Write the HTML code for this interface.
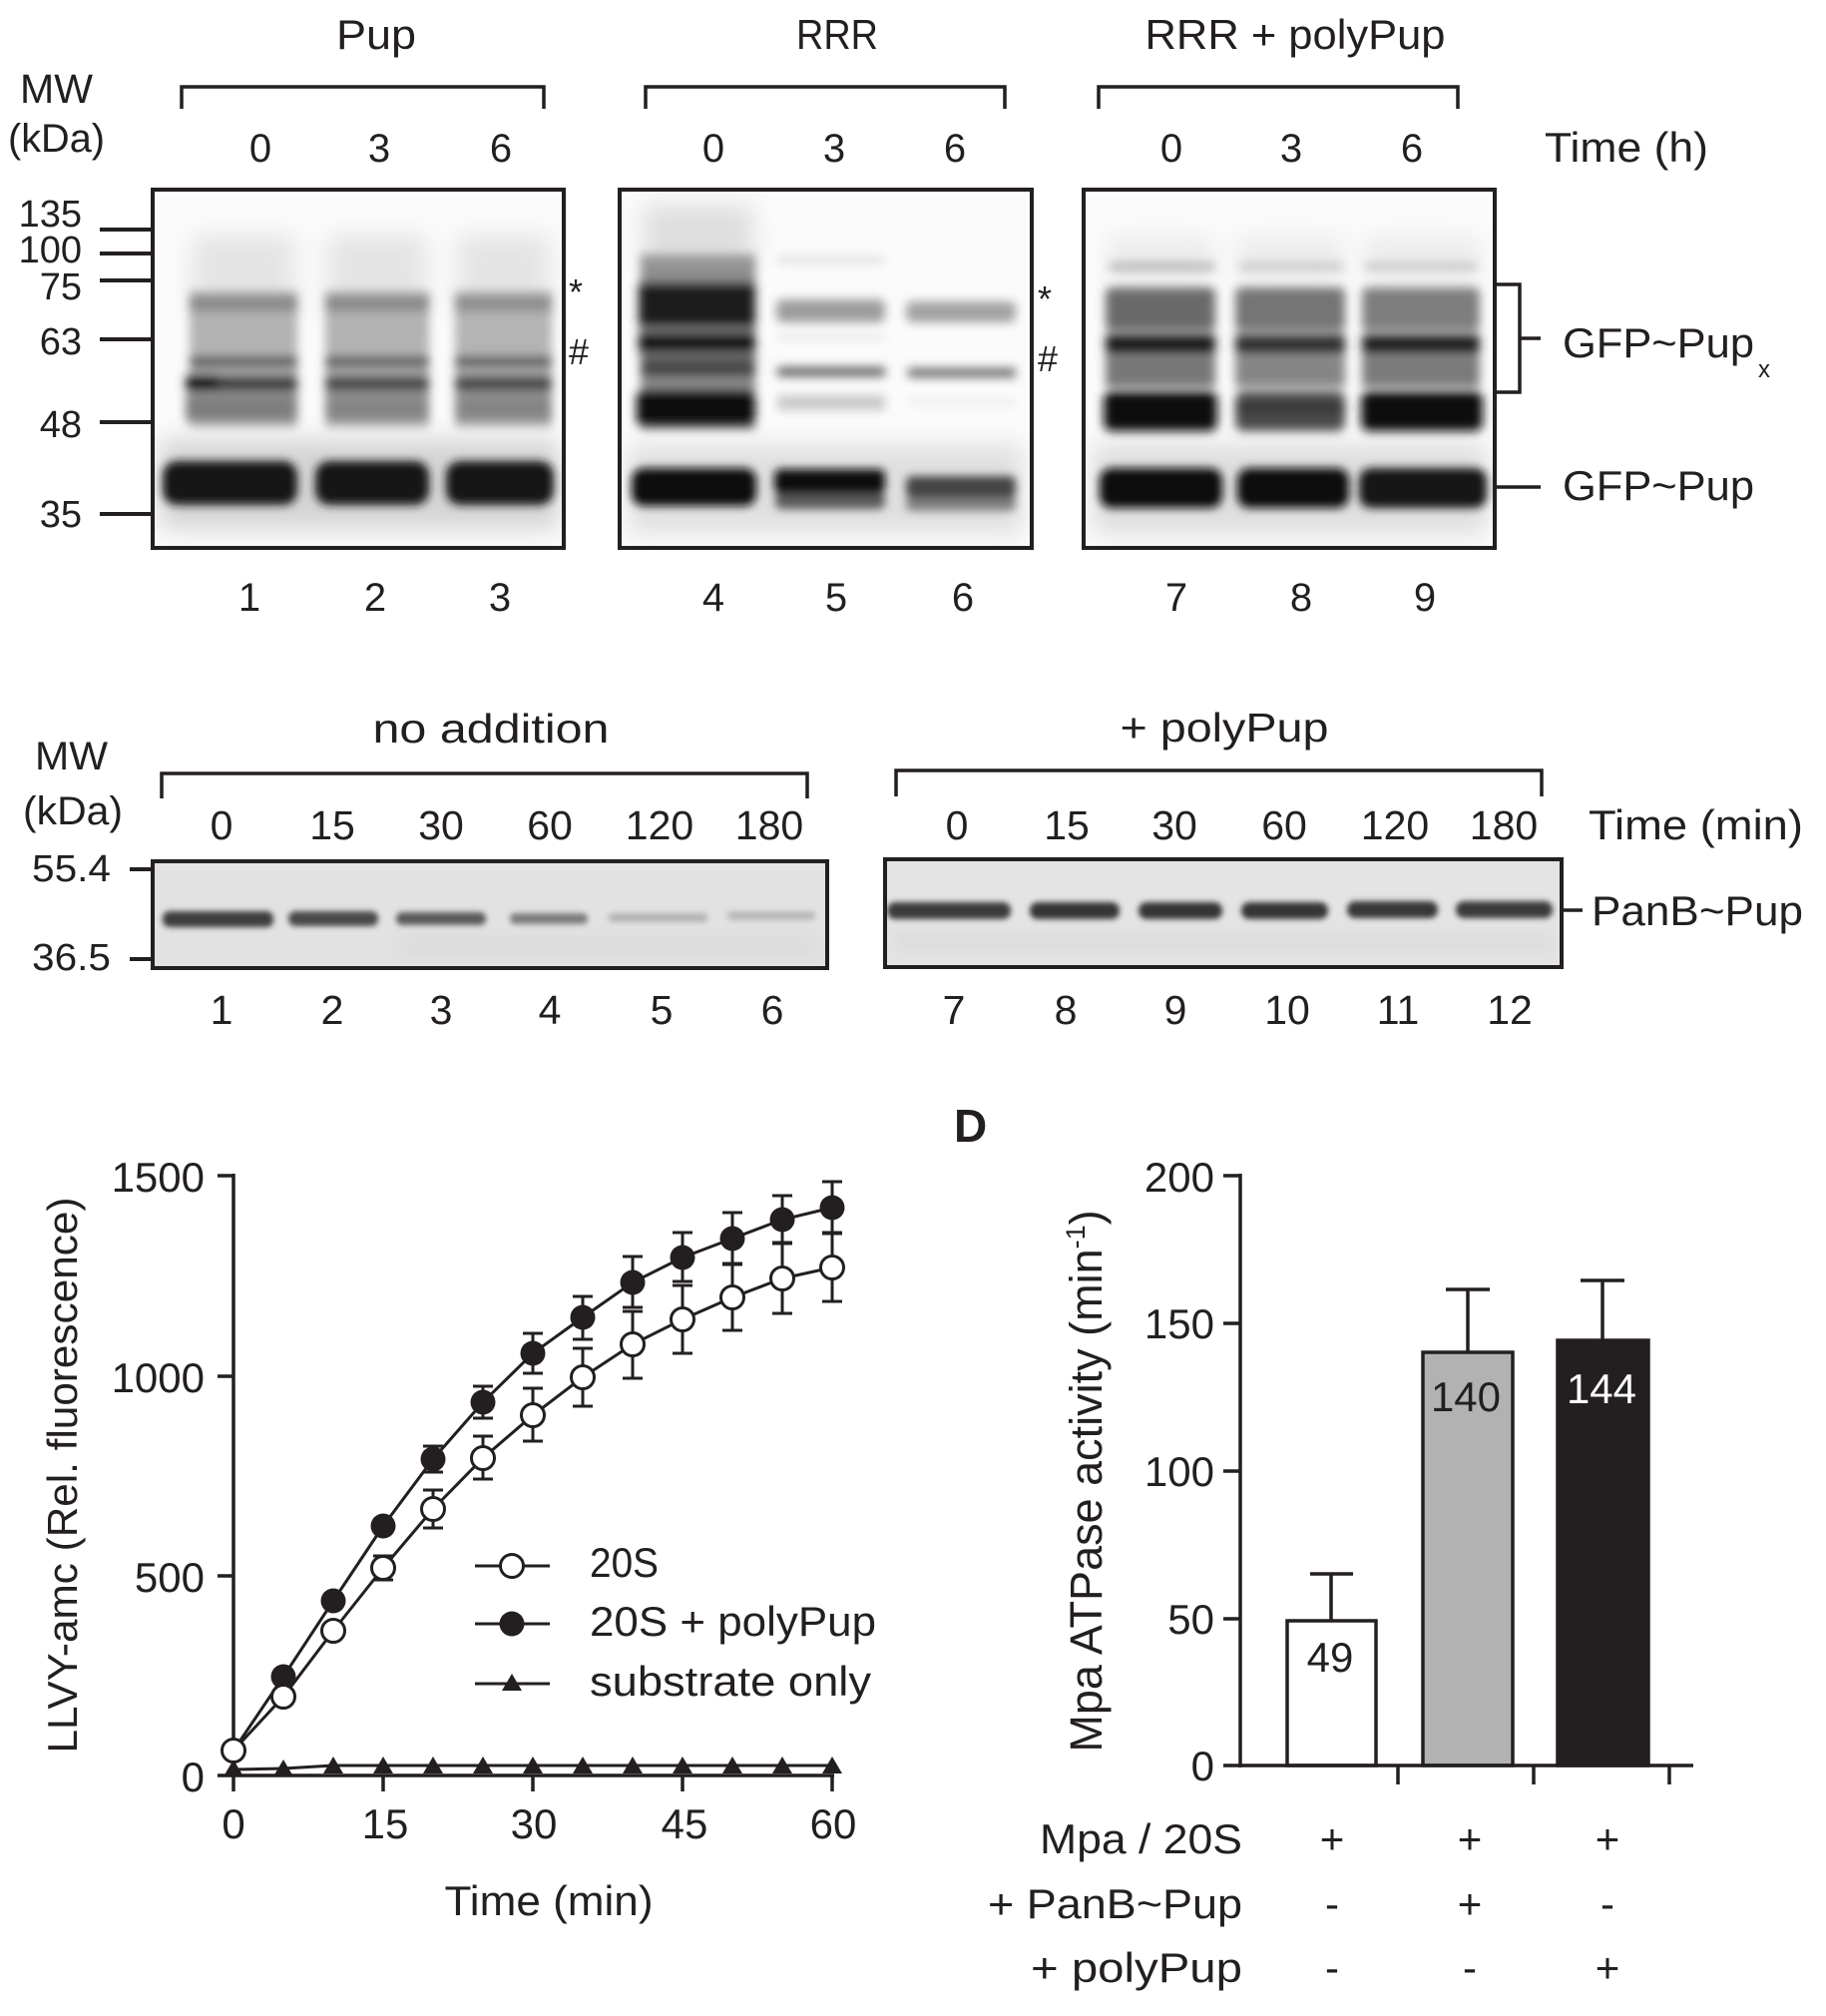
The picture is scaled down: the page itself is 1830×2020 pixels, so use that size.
<!DOCTYPE html>
<html>
<head>
<meta charset="utf-8">
<style>
html,body{margin:0;padding:0;background:#fff;}
svg{display:block;}
</style>
</head>
<body>
<svg width="1830" height="2020" viewBox="0 0 1830 2020" xmlns="http://www.w3.org/2000/svg" font-family="'Liberation Sans', Arial, sans-serif" fill="#231f20">
<defs>
  <filter id="bl12" filterUnits="userSpaceOnUse" x="0" y="0" width="1830" height="2020"><feGaussianBlur stdDeviation="12"/></filter>
  <filter id="bl8" filterUnits="userSpaceOnUse" x="0" y="0" width="1830" height="2020"><feGaussianBlur stdDeviation="8"/></filter>
  <filter id="bl4" filterUnits="userSpaceOnUse" x="0" y="0" width="1830" height="2020"><feGaussianBlur stdDeviation="5"/></filter>
  <filter id="bl3" filterUnits="userSpaceOnUse" x="0" y="0" width="1830" height="2020"><feGaussianBlur stdDeviation="4.5"/></filter>
  <filter id="bl2" filterUnits="userSpaceOnUse" x="0" y="0" width="1830" height="2020"><feGaussianBlur stdDeviation="3"/></filter>
  <clipPath id="c1"><rect x="155" y="192" width="408" height="355"/></clipPath>
  <clipPath id="c2"><rect x="623" y="192" width="409" height="355"/></clipPath>
  <clipPath id="c3"><rect x="1088" y="192" width="408" height="355"/></clipPath>
  <clipPath id="c4"><rect x="155" y="865" width="672" height="103"/></clipPath>
  <clipPath id="c5"><rect x="889" y="863" width="674" height="104"/></clipPath>
</defs>
<rect width="1830" height="2020" fill="#fff"/>

<!-- ================= TOP PANEL ================= -->
<g font-size="42">
  <text x="377" y="49" text-anchor="middle" textLength="80" lengthAdjust="spacingAndGlyphs">Pup</text>
  <text x="839" y="49" text-anchor="middle" textLength="82" lengthAdjust="spacingAndGlyphs">RRR</text>
  <text x="1298" y="49" text-anchor="middle" textLength="301" lengthAdjust="spacingAndGlyphs">RRR + polyPup</text>
  <text x="20" y="103" font-size="41" textLength="73" lengthAdjust="spacingAndGlyphs">MW</text>
  <text x="8" y="152" font-size="40" textLength="97" lengthAdjust="spacingAndGlyphs">(kDa)</text>
</g>
<g fill="none" stroke="#231f20" stroke-width="3.5">
  <path d="M182 109 V87 H545 V109"/>
  <path d="M647 109 V87 H1007 V109"/>
  <path d="M1101 109 V87 H1461 V109"/>
</g>
<g font-size="40" text-anchor="middle">
  <text x="261" y="162">0</text><text x="380" y="162">3</text><text x="502" y="162">6</text>
  <text x="715" y="162">0</text><text x="836" y="162">3</text><text x="957" y="162">6</text>
  <text x="1174" y="162">0</text><text x="1294" y="162">3</text><text x="1415" y="162">6</text>
</g>
<text x="1548" y="162" font-size="42" textLength="164" lengthAdjust="spacingAndGlyphs">Time (h)</text>

<!-- MW ladder -->
<g font-size="38" text-anchor="end">
  <text x="82" y="227">135</text>
  <text x="82" y="263">100</text>
  <text x="82" y="300">75</text>
  <text x="82" y="355">63</text>
  <text x="82" y="438">48</text>
  <text x="82" y="528">35</text>
</g>
<g stroke="#231f20" stroke-width="4">
  <path d="M100 230 H153 M100 254 H153 M100 281 H153 M100 340 H153 M100 423 H153 M100 515 H153"/>
</g>

<!-- Blot 1 -->
<g clip-path="url(#c1)">
  <rect x="153" y="190" width="412" height="359" fill="#fbfbfb"/>
  <g filter="url(#bl12)">
    <rect x="192" y="235" width="104" height="80" fill="#e4e4e4"/>
    <rect x="328" y="235" width="100" height="80" fill="#e4e4e4"/>
    <rect x="458" y="235" width="93" height="80" fill="#e4e4e4"/>
    <rect x="160" y="440" width="400" height="90" fill="#d4d4d4"/>
  </g>
  <g filter="url(#bl4)">
    <rect x="190" y="292" width="108" height="136" fill="#b2b2b2"/>
    <rect x="326" y="292" width="104" height="136" fill="#b2b2b2"/>
    <rect x="456" y="292" width="97" height="136" fill="#b4b4b4"/>
    <rect x="190" y="296" width="108" height="16" fill="#8a8a8a"/>
    <rect x="326" y="296" width="104" height="16" fill="#8a8a8a"/>
    <rect x="456" y="296" width="97" height="16" fill="#8e8e8e"/>
    <rect x="190" y="357" width="108" height="11" fill="#5a5a5a"/>
    <rect x="326" y="357" width="104" height="11" fill="#5a5a5a"/>
    <rect x="456" y="357" width="97" height="11" fill="#5a5a5a"/>
    <rect x="186" y="376" width="112" height="17" fill="#3e3e3e"/>
    <rect x="326" y="376" width="104" height="17" fill="#484848"/>
    <rect x="456" y="376" width="97" height="17" fill="#484848"/>
    <rect x="188" y="375" width="30" height="18" fill="#111"/>
    <rect x="186" y="396" width="112" height="26" fill="#7e7e7e"/>
    <rect x="326" y="396" width="104" height="26" fill="#858585"/>
    <rect x="456" y="396" width="97" height="26" fill="#858585"/>
  </g>
  <g filter="url(#bl3)">
    <rect x="163" y="462" width="135" height="44" rx="14" fill="#181617"/>
    <rect x="316" y="462" width="114" height="44" rx="14" fill="#181617"/>
    <rect x="447" y="462" width="108" height="44" rx="14" fill="#181617"/>
  </g>
</g>
<rect x="153" y="190" width="412" height="359" fill="none" stroke="#231f20" stroke-width="4"/>
<g font-size="36">
  <text x="570" y="305">*</text>
  <text x="570" y="365">#</text>
</g>

<!-- Blot 2 -->
<g clip-path="url(#c2)">
  <rect x="621" y="190" width="413" height="359" fill="#fbfbfb"/>
  <g filter="url(#bl12)">
    <rect x="644" y="205" width="111" height="60" fill="#dedede"/>
    <rect x="630" y="445" width="395" height="90" fill="#e0e0e0"/>
  </g>
  <g filter="url(#bl4)">
    <rect x="642" y="255" width="115" height="175" fill="#8e8e8e"/>
    <rect x="642" y="258" width="115" height="9" fill="#9a9a9a"/>
    <rect x="640" y="283" width="117" height="45" fill="#1a1a1a"/>
    <rect x="640" y="333" width="117" height="21" fill="#141414"/>
    <rect x="642" y="358" width="115" height="20" fill="#4a4a4a"/>
    <rect x="638" y="390" width="119" height="38" rx="8" fill="#0a0a0a"/>
    <rect x="779" y="257" width="108" height="7" fill="#e0e0e0"/>
    <rect x="778" y="300" width="109" height="23" rx="6" fill="#9c9c9c"/>
    <rect x="779" y="335" width="108" height="5" fill="#e2e2e2"/>
    <rect x="779" y="368" width="108" height="9" fill="#5c5c5c"/>
    <rect x="779" y="396" width="108" height="15" fill="#c8c8c8"/>
    <rect x="908" y="302" width="110" height="21" rx="6" fill="#a2a2a2"/>
    <rect x="910" y="369" width="108" height="9" fill="#666"/>
    <rect x="910" y="400" width="108" height="6" fill="#eaeaea"/>
  </g>
  <g filter="url(#bl3)">
    <rect x="633" y="469" width="125" height="38" rx="12" fill="#0a0a0a"/>
    <rect x="777" y="493" width="110" height="17" rx="6" fill="#5a5a5a"/>
    <rect x="776" y="470" width="111" height="25" rx="6" fill="#111"/>
    <rect x="908" y="497" width="110" height="15" rx="6" fill="#808080"/>
    <rect x="908" y="477" width="110" height="22" rx="6" fill="#454545"/>
  </g>
</g>
<rect x="621" y="190" width="413" height="359" fill="none" stroke="#231f20" stroke-width="4"/>
<g font-size="36">
  <text x="1040" y="312">*</text>
  <text x="1040" y="372">#</text>
</g>

<!-- Blot 3 -->
<g clip-path="url(#c3)">
  <rect x="1086" y="190" width="412" height="359" fill="#fbfbfb"/>
  <g filter="url(#bl12)">
    <rect x="1110" y="235" width="106" height="50" fill="#ececec"/>
    <rect x="1240" y="235" width="106" height="50" fill="#ececec"/>
    <rect x="1367" y="235" width="116" height="50" fill="#ececec"/>
    <rect x="1095" y="445" width="395" height="90" fill="#dedede"/>
  </g>
  <g filter="url(#bl4)">
    <rect x="1112" y="263" width="105" height="8" fill="#b4b4b4"/>
    <rect x="1242" y="263" width="104" height="8" fill="#c8c8c8"/>
    <rect x="1368" y="263" width="112" height="8" fill="#c8c8c8"/>
    <rect x="1108" y="288" width="110" height="44" rx="6" fill="#6a6a6a"/>
    <rect x="1238" y="288" width="110" height="44" rx="6" fill="#747474"/>
    <rect x="1365" y="288" width="118" height="44" rx="6" fill="#7e7e7e"/>
    <rect x="1108" y="335" width="110" height="20" fill="#1e1e1e"/>
    <rect x="1238" y="335" width="110" height="20" fill="#333"/>
    <rect x="1365" y="335" width="118" height="20" fill="#222"/>
    <rect x="1108" y="356" width="110" height="32" fill="#777"/>
    <rect x="1238" y="356" width="110" height="32" fill="#858585"/>
    <rect x="1365" y="356" width="118" height="32" fill="#7a7a7a"/>
    <rect x="1106" y="392" width="114" height="40" rx="8" fill="#0c0c0c"/>
    <rect x="1238" y="392" width="110" height="40" rx="8" fill="#4c4c4c"/>
    <rect x="1238" y="405" width="110" height="8" fill="#2e2e2e"/>
    <rect x="1364" y="392" width="122" height="40" rx="8" fill="#0c0c0c"/>
  </g>
  <g filter="url(#bl3)">
    <rect x="1102" y="469" width="123" height="40" rx="12" fill="#0a0a0a"/>
    <rect x="1240" y="469" width="112" height="40" rx="12" fill="#101010"/>
    <rect x="1362" y="469" width="128" height="40" rx="12" fill="#141414"/>
  </g>
</g>
<rect x="1086" y="190" width="412" height="359" fill="none" stroke="#231f20" stroke-width="4"/>

<!-- right labels -->
<g fill="none" stroke="#231f20" stroke-width="3.5">
  <path d="M1499 285 H1523 V393 H1499"/>
  <path d="M1523 339 H1544"/>
  <path d="M1498 488 H1544"/>
</g>
<text x="1566" y="358" font-size="42" textLength="192" lengthAdjust="spacingAndGlyphs">GFP~Pup</text>
<text x="1762" y="378" font-size="24">x</text>
<text x="1566" y="501" font-size="42" textLength="192" lengthAdjust="spacingAndGlyphs">GFP~Pup</text>

<!-- lane numbers -->
<g font-size="40" text-anchor="middle">
  <text x="250" y="612">1</text><text x="376" y="612">2</text><text x="501" y="612">3</text>
  <text x="715" y="612">4</text><text x="838" y="612">5</text><text x="965" y="612">6</text>
  <text x="1179" y="612">7</text><text x="1304" y="612">8</text><text x="1428" y="612">9</text>
</g>

<!-- ================= MIDDLE PANEL ================= -->
<text x="35" y="771" font-size="40" textLength="73" lengthAdjust="spacingAndGlyphs">MW</text>
<text x="23" y="826" font-size="40" textLength="100" lengthAdjust="spacingAndGlyphs">(kDa)</text>
<text x="492" y="744" font-size="41" text-anchor="middle" textLength="237" lengthAdjust="spacingAndGlyphs">no addition</text>
<text x="1227" y="743" font-size="41" text-anchor="middle" textLength="209" lengthAdjust="spacingAndGlyphs">+ polyPup</text>
<g fill="none" stroke="#231f20" stroke-width="3.5">
  <path d="M162 800 V775 H809 V800"/>
  <path d="M898 798 V772 H1545 V798"/>
</g>
<g font-size="41" text-anchor="middle">
  <text x="222" y="841">0</text><text x="333" y="841">15</text><text x="442" y="841">30</text>
  <text x="551" y="841">60</text><text x="661" y="841">120</text><text x="771" y="841">180</text>
  <text x="959" y="841">0</text><text x="1069" y="841">15</text><text x="1177" y="841">30</text>
  <text x="1287" y="841">60</text><text x="1398" y="841">120</text><text x="1507" y="841">180</text>
</g>
<text x="1592" y="841" font-size="42" textLength="215" lengthAdjust="spacingAndGlyphs">Time (min)</text>

<!-- gel A -->
<g clip-path="url(#c4)">
  <rect x="153" y="863" width="676" height="107" fill="#e2e2e2"/>
  <g filter="url(#bl2)">
    <rect x="163" y="913" width="111" height="16" rx="7" fill="#3e3e3e"/>
    <rect x="289" y="913" width="90" height="15" rx="7" fill="#4a4a4a"/>
    <rect x="397" y="914" width="90" height="13" rx="6" fill="#5a5a5a"/>
    <rect x="511" y="915" width="78" height="11" rx="5" fill="#7c7c7c"/>
    <rect x="610" y="915" width="99" height="9" rx="4" fill="#b2b2b2"/>
    <rect x="729" y="913" width="88" height="9" rx="4" fill="#b8b8b8"/>
  </g>
  <g filter="url(#bl8)">
    <rect x="400" y="940" width="420" height="16" fill="#dadada"/>
  </g>
</g>
<rect x="153" y="863" width="676" height="107" fill="none" stroke="#231f20" stroke-width="4"/>
<g stroke="#231f20" stroke-width="4"><path d="M130 871 H153 M130 961 H153"/></g>
<g font-size="38" text-anchor="end">
  <text x="111" y="883" textLength="79" lengthAdjust="spacingAndGlyphs">55.4</text>
  <text x="111" y="972" textLength="79" lengthAdjust="spacingAndGlyphs">36.5</text>
</g>

<!-- gel B -->
<g clip-path="url(#c5)">
  <rect x="887" y="861" width="678" height="108" fill="#e4e4e4"/>
  <g filter="url(#bl2)">
    <rect x="889" y="904" width="124" height="17" rx="8" fill="#3a3a3a"/>
    <rect x="1032" y="904" width="90" height="17" rx="8" fill="#363636"/>
    <rect x="1141" y="904" width="84" height="17" rx="8" fill="#363636"/>
    <rect x="1244" y="904" width="87" height="17" rx="8" fill="#363636"/>
    <rect x="1350" y="903" width="91" height="17" rx="8" fill="#383838"/>
    <rect x="1459" y="903" width="97" height="17" rx="8" fill="#3a3a3a"/>
  </g>
  <g filter="url(#bl8)">
    <rect x="895" y="936" width="660" height="16" fill="#dadada"/>
  </g>
</g>
<rect x="887" y="861" width="678" height="108" fill="none" stroke="#231f20" stroke-width="4"/>
<path d="M1565 912 H1586" stroke="#231f20" stroke-width="3.5"/>
<text x="1595" y="927" font-size="42" textLength="212" lengthAdjust="spacingAndGlyphs">PanB~Pup</text>

<g font-size="41" text-anchor="middle">
  <text x="222" y="1026">1</text><text x="333" y="1026">2</text><text x="442" y="1026">3</text>
  <text x="551" y="1026">4</text><text x="663" y="1026">5</text><text x="774" y="1026">6</text>
  <text x="956" y="1026">7</text><text x="1068" y="1026">8</text><text x="1178" y="1026">9</text>
  <text x="1290" y="1026">10</text><text x="1401" y="1026">11</text><text x="1513" y="1026">12</text>
</g>

<!-- ================= CHART C ================= -->
<g stroke="#231f20" stroke-width="3.5" fill="none">
  <path d="M234 1176 V1781"/>
  <path d="M218 1779 H836"/>
  <path d="M218 1178 H234 M218 1379 H234 M218 1579 H234"/>
  <path d="M234 1779 V1795 M384 1779 V1795 M534 1779 V1795 M684 1779 V1795 M834 1779 V1795"/>
</g>
<g font-size="42" text-anchor="end">
  <text x="205" y="1194">1500</text>
  <text x="205" y="1395">1000</text>
  <text x="205" y="1595">500</text>
  <text x="205" y="1795">0</text>
</g>
<g font-size="42" text-anchor="middle">
  <text x="234" y="1842">0</text><text x="386" y="1842">15</text><text x="535" y="1842">30</text>
  <text x="686" y="1842">45</text><text x="835" y="1842">60</text>
</g>
<text x="550" y="1919" font-size="42" text-anchor="middle" textLength="209" lengthAdjust="spacingAndGlyphs">Time (min)</text>
<text transform="translate(77,1478) rotate(-90)" font-size="42" text-anchor="middle" textLength="557" lengthAdjust="spacingAndGlyphs">LLVY-amc (Rel. fluorescence)</text>

<!-- series lines -->
<g fill="none" stroke="#231f20" stroke-width="3">
  <polyline points="234,1773 284,1772 334,1769 384,1769 434,1769 484,1769 534,1769 584,1769 634,1769 684,1769 734,1769 784,1769 834,1769"/>
  <polyline points="234,1754 284,1700 334,1634 384,1571 434,1512 484,1461 534,1418 584,1380 634,1347 684,1322 734,1300 784,1281 834,1270"/>
  <polyline points="234,1754 284,1680 334,1604 384,1529 434,1462 484,1405 534,1356 584,1320 634,1285 684,1260 734,1241 784,1222 834,1210"/>
</g>
<!-- error bars -->
<g fill="none" stroke="#231f20" stroke-width="3">
  <path d="M384 1559 V1583 M374 1559 H394 M374 1583 H394"/>
  <path d="M434 1493 V1531 M424 1493 H444 M424 1531 H444"/>
  <path d="M484 1439 V1482 M474 1439 H494 M474 1482 H494"/>
  <path d="M534 1391 V1444 M524 1391 H544 M524 1444 H544"/>
  <path d="M584 1351 V1409 M574 1351 H594 M574 1409 H594"/>
  <path d="M634 1314 V1381 M624 1314 H644 M624 1381 H644"/>
  <path d="M684 1288 V1356 M674 1288 H694 M674 1356 H694"/>
  <path d="M734 1267 V1333 M724 1267 H744 M724 1333 H744"/>
  <path d="M784 1245 V1316 M774 1245 H794 M774 1316 H794"/>
  <path d="M834 1236 V1304 M824 1236 H844 M824 1304 H844"/>
  <path d="M434 1449 V1475 M424 1449 H444 M424 1475 H444"/>
  <path d="M484 1389 V1421 M474 1389 H494 M474 1421 H494"/>
  <path d="M534 1336 V1376 M524 1336 H544 M524 1376 H544"/>
  <path d="M584 1299 V1342 M574 1299 H594 M574 1342 H594"/>
  <path d="M634 1259 V1310 M624 1259 H644 M624 1310 H644"/>
  <path d="M684 1235 V1284 M674 1235 H694 M674 1284 H694"/>
  <path d="M734 1215 V1266 M724 1215 H744 M724 1266 H744"/>
  <path d="M784 1198 V1246 M774 1198 H794 M774 1246 H794"/>
  <path d="M834 1184 V1235 M824 1184 H844 M824 1235 H844"/>
</g>
<!-- triangles -->
<g fill="#231f20">
  <path d="M234 1763 l10 17 h-20 z"/>
  <path d="M284 1763 l10 17 h-20 z"/>
  <path d="M334 1760 l10 17 h-20 z"/>
  <path d="M384 1760 l10 17 h-20 z"/>
  <path d="M434 1760 l10 17 h-20 z"/>
  <path d="M484 1760 l10 17 h-20 z"/>
  <path d="M534 1760 l10 17 h-20 z"/>
  <path d="M584 1760 l10 17 h-20 z"/>
  <path d="M634 1760 l10 17 h-20 z"/>
  <path d="M684 1760 l10 17 h-20 z"/>
  <path d="M734 1760 l10 17 h-20 z"/>
  <path d="M784 1760 l10 17 h-20 z"/>
  <path d="M834 1760 l10 17 h-20 z"/>
</g>
<!-- filled circles -->
<g fill="#231f20">
  <circle cx="284" cy="1680" r="12.5"/><circle cx="334" cy="1604" r="12.5"/>
  <circle cx="384" cy="1529" r="12.5"/><circle cx="434" cy="1462" r="12.5"/>
  <circle cx="484" cy="1405" r="12.5"/><circle cx="534" cy="1356" r="12.5"/>
  <circle cx="584" cy="1320" r="12.5"/><circle cx="634" cy="1285" r="12.5"/>
  <circle cx="684" cy="1260" r="12.5"/><circle cx="734" cy="1241" r="12.5"/>
  <circle cx="784" cy="1222" r="12.5"/><circle cx="834" cy="1210" r="12.5"/>
</g>
<!-- open circles -->
<g fill="#fff" stroke="#231f20" stroke-width="3">
  <circle cx="234" cy="1754" r="11.5"/><circle cx="284" cy="1700" r="11.5"/>
  <circle cx="334" cy="1634" r="11.5"/><circle cx="384" cy="1571" r="11.5"/>
  <circle cx="434" cy="1512" r="11.5"/><circle cx="484" cy="1461" r="11.5"/>
  <circle cx="534" cy="1418" r="11.5"/><circle cx="584" cy="1380" r="11.5"/>
  <circle cx="634" cy="1347" r="11.5"/><circle cx="684" cy="1322" r="11.5"/>
  <circle cx="734" cy="1300" r="11.5"/><circle cx="784" cy="1281" r="11.5"/>
  <circle cx="834" cy="1270" r="11.5"/>
</g>
<!-- legend -->
<g stroke="#231f20" stroke-width="3" fill="none">
  <path d="M476 1569 H551 M476 1627 H551 M476 1687 H551"/>
</g>
<circle cx="513" cy="1569" r="11.5" fill="#fff" stroke="#231f20" stroke-width="3"/>
<circle cx="513" cy="1627" r="12.5" fill="#231f20"/>
<path d="M513 1677 l10 17 h-20 z" fill="#231f20"/>
<g font-size="42">
  <text x="591" y="1580" textLength="69" lengthAdjust="spacingAndGlyphs">20S</text>
  <text x="591" y="1639" textLength="287" lengthAdjust="spacingAndGlyphs">20S + polyPup</text>
  <text x="591" y="1699" textLength="282" lengthAdjust="spacingAndGlyphs">substrate only</text>
</g>

<!-- ================= CHART D ================= -->
<text x="956" y="1144" font-size="46" font-weight="bold">D</text>
<rect x="1290" y="1624" width="89" height="145" fill="#fff" stroke="#231f20" stroke-width="3.5"/>
<rect x="1426" y="1355" width="90" height="414" fill="#b2b2b2" stroke="#231f20" stroke-width="3.5"/>
<rect x="1561" y="1343" width="91" height="426" fill="#231f20" stroke="#231f20" stroke-width="3.5"/>
<g stroke="#231f20" stroke-width="3.5" fill="none">
  <path d="M1334 1624 V1577 M1313 1577 H1356"/>
  <path d="M1471 1355 V1292 M1449 1292 H1493"/>
  <path d="M1606 1343 V1283 M1584 1283 H1628"/>
  <path d="M1243 1176 V1771"/>
  <path d="M1226 1769 H1697"/>
  <path d="M1226 1178 H1243 M1226 1326 H1243 M1226 1474 H1243 M1226 1622 H1243"/>
  <path d="M1401 1769 V1788 M1537 1769 V1788 M1673 1769 V1788"/>
</g>
<g font-size="42" text-anchor="end">
  <text x="1217" y="1194">200</text>
  <text x="1217" y="1341">150</text>
  <text x="1217" y="1489">100</text>
  <text x="1217" y="1637">50</text>
  <text x="1217" y="1784">0</text>
</g>
<g font-size="42" text-anchor="middle">
  <text x="1333" y="1675">49</text>
  <text x="1469" y="1414">140</text>
  <text x="1605" y="1406" fill="#fff">144</text>
</g>
<text transform="translate(1104,1484) rotate(-90)" font-size="45" text-anchor="middle">Mpa ATPase activity (min<tspan font-size="27" dy="-17">-1</tspan><tspan dy="17">)</tspan></text>

<g font-size="42" text-anchor="end">
  <text x="1245" y="1857" textLength="203" lengthAdjust="spacingAndGlyphs">Mpa / 20S</text>
  <text x="1245" y="1922" textLength="255" lengthAdjust="spacingAndGlyphs">+ PanB~Pup</text>
  <text x="1245" y="1986" textLength="212" lengthAdjust="spacingAndGlyphs">+ polyPup</text>
</g>
<g font-size="42" text-anchor="middle">
  <text x="1335" y="1857">+</text><text x="1473" y="1857">+</text><text x="1611" y="1857">+</text>
  <text x="1335" y="1922">-</text><text x="1473" y="1922">+</text><text x="1611" y="1922">-</text>
  <text x="1335" y="1986">-</text><text x="1473" y="1986">-</text><text x="1611" y="1986">+</text>
</g>
</svg>
</body>
</html>
